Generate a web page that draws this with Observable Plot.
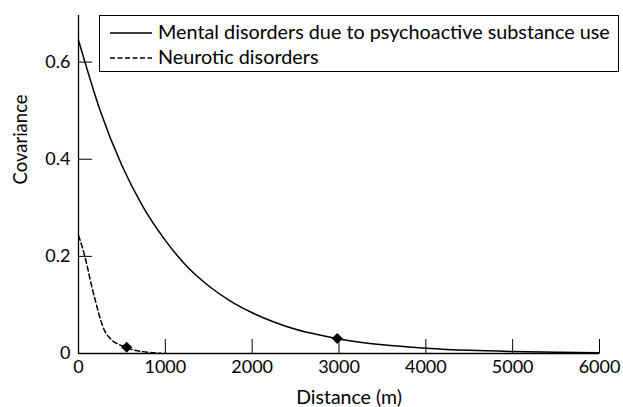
<!DOCTYPE html>
<html><head><meta charset="utf-8">
<script src="https://cdn.jsdelivr.net/npm/d3@7"></script>
<script src="https://cdn.jsdelivr.net/npm/@observablehq/plot@0.6"></script>
<style>body{margin:0;background:#fff} svg{font-family:Lato,sans-serif}</style>
</head><body><div id="chart"></div>
<script>
const seriesNames = ["Mental disorders due to psychoactive substance use", "Neurotic disorders"];
const mentalDist = [0, 250, 500, 750, 1000, 1250, 1500, 1750, 2000, 2250, 2500, 2750, 3000, 3500, 4000, 4500, 5000, 5500, 6000];
const mentalCov  = [0.645, 0.50, 0.387, 0.30, 0.233, 0.179, 0.139, 0.108, 0.084, 0.065, 0.050, 0.039, 0.030, 0.018, 0.011, 0.0065, 0.004, 0.0025, 0.0015];
const neuroticDist = [0, 50, 100, 150, 200, 250, 300, 350, 400, 450, 500, 550, 600, 700, 800, 900, 950];
const neuroticCov  = [0.243, 0.215, 0.180, 0.140, 0.105, 0.072, 0.047, 0.034, 0.025, 0.020, 0.016, 0.013, 0.009, 0.005, 0.0025, 0.001, 0.0005];
const markerDist = [2980, 555];
const markerCov = [0.031, 0.013];
const xTicks = [0, 1000, 2000, 3000, 4000, 5000, 6000];
const xTickLabels = ["0", "1000", "2000", "3000", "4000", "5000", "6000"];
const yTicks = [0, 0.2, 0.4, 0.6];
const yTickLabels = ["0", "0.2", "0.4", "0.6"];
const xLabel = "Distance (m)";
const yLabel = "Covariance";
const yTop = 0.696;

const W = 623, H = 407, mL = 78, mR = 24, mT = 15, mB = 54;
const plotW = W - mL - mR, plotH = H - mT - mB;

const mental = mentalDist.map((d, i) => ({x: d, y: mentalCov[i]}));
const neurotic = neuroticDist.map((d, i) => ({x: d, y: neuroticCov[i]}));
const markers = markerDist.map((d, i) => ({x: d, y: markerCov[i]}));

const plot = Plot.plot({
  width: W, height: H,
  marginLeft: mL, marginRight: mR, marginTop: mT, marginBottom: mB,
  style: {fontFamily: "Lato, sans-serif", fontSize: "18px", color: "#000", background: "#fff"},
  x: {domain: [0, 6000]},
  y: {domain: [0, yTop]},
  marks: [
    Plot.axisX({ticks: xTicks, tickSize: 0, tickPadding: 7, tickFormat: d => xTickLabels[xTicks.indexOf(d)], label: null}),
    Plot.axisY({ticks: yTicks, tickSize: 0, tickPadding: 8, tickFormat: d => yTickLabels[yTicks.indexOf(d)], label: null}),
    Plot.text([yLabel], {frameAnchor: "left", dx: -65, rotate: -90, lineAnchor: "top", fontSize: 18.5, fill: "#000"}),
    Plot.text([xLabel], {frameAnchor: "bottom", dx: 10, dy: 50, lineAnchor: "bottom", fontSize: 19.5, fill: "#000"}),
    Plot.tickY(yTicks, {y: d => d, insetRight: plotW - 14, stroke: "#000"}),
    Plot.tickX(xTicks, {x: d => d, insetTop: plotH - 14, stroke: "#000"}),
    Plot.ruleX([0], {y1: 0, y2: yTop, stroke: "#000", strokeWidth: 1.3}),
    Plot.ruleY([0], {stroke: "#000", strokeWidth: 1.3}),
    Plot.line(mental, {x: "x", y: "y", stroke: "#000", strokeWidth: 1.5, curve: "monotone-x"}),
    Plot.line(neurotic, {x: "x", y: "y", stroke: "#000", strokeWidth: 1.5, strokeDasharray: "5,3", curve: "monotone-x"}),
    Plot.dot(markers, {x: "x", y: "y", symbol: "diamond2", r: 5, fill: "#000", stroke: "none"})
  ]
});

const svg = d3.select(plot);
const lg = svg.append("g").attr("text-anchor", "start");
lg.append("rect").attr("x", 99.5).attr("y", 15.5).attr("width", 519).attr("height", 56)
  .attr("fill", "#fff").attr("stroke", "#000").attr("stroke-width", 1);
seriesNames.forEach((name, i) => {
  const yy = 33 + i * 25;
  lg.append("line").attr("x1", 110).attr("x2", 152).attr("y1", yy).attr("y2", yy)
    .attr("stroke", "#000").attr("stroke-width", 1.3)
    .attr("stroke-dasharray", i === 1 ? "5,2.5" : null);
  lg.append("text").attr("x", 158).attr("y", yy + 6).attr("fill", "#000")
    .attr("text-anchor", "start").style("font-size", "19.8px").text(name);
});

document.getElementById("chart").appendChild(plot);
</script>
</body></html>
